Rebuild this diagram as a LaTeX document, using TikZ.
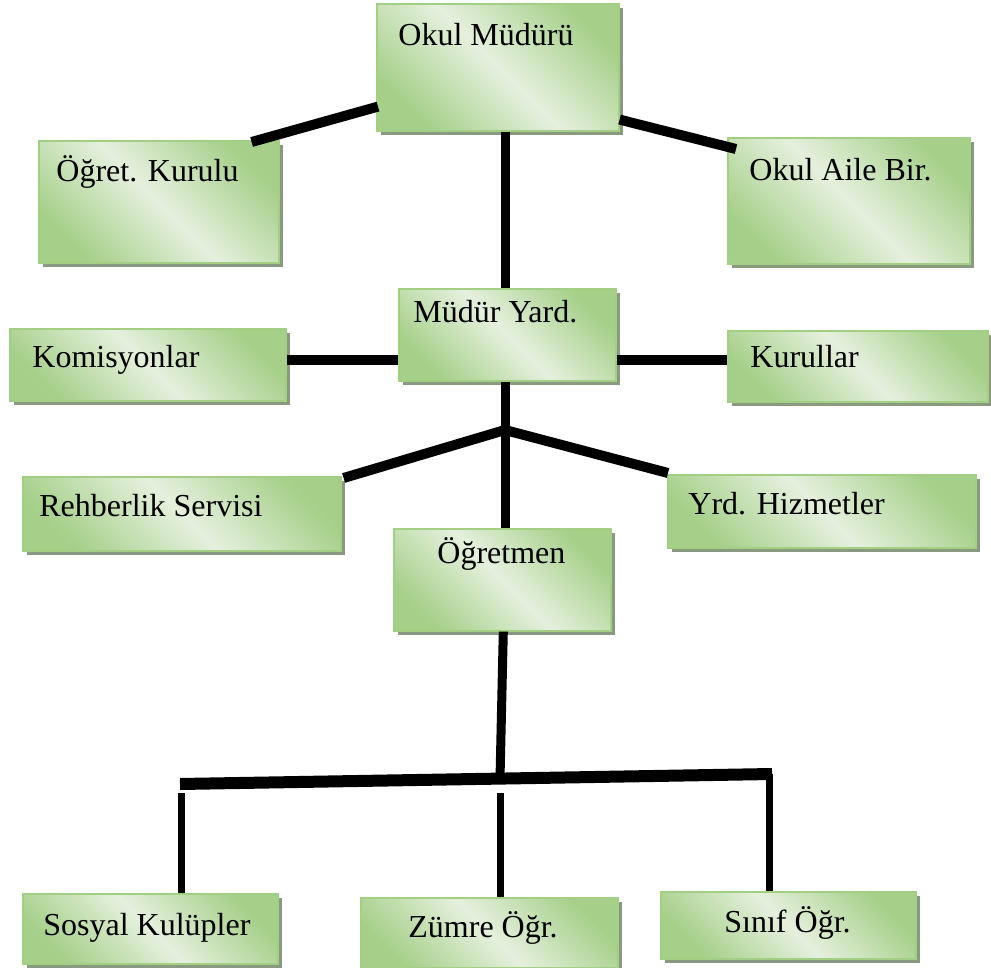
\documentclass[tikz,border=0pt]{standalone}
\usepackage{fontspec}
\setmainfont{Liberation Serif}
\usetikzlibrary{shadows,calc,positioning}
\definecolor{boxgreen}{RGB}{166,208,138}
\definecolor{boxlight}{RGB}{229,240,221}
\definecolor{boxedge}{RGB}{163,207,133}
\definecolor{boxshadow}{RGB}{138,154,128}

\begin{document}
\begin{tikzpicture}
[x=0.5pt,y=-0.5pt,
box/.style 2 args = {draw=boxedge, line width=0.8pt, anchor=north west, inner sep=0pt,
  minimum width=#1*0.5pt, minimum height=#2*0.5pt,
  shading=axis, left color=boxgreen, right color=boxgreen, middle color=boxlight, shading angle=-45,
  drop shadow={shadow xshift=2pt, shadow yshift=-2pt, fill=boxshadow, opacity=1}},
lbl/.style = {anchor=base west, inner sep=0pt, font=\fontsize{16}{18}\selectfont},
link/.style = {line width=5pt},
stem/.style = {line width=3.5pt},]
\useasboundingbox (0,0) rectangle (991,968);
% boxes
\node[box={242}{127}] (om) at (376,3) {};
\node[box={240}{122}] (ok) at (38,140) {};
\node[box={242}{126}] (oab) at (727,137) {};
\node[box={217}{92}] (my) at (398,288) {};
\node[box={276}{72}] (kom) at (9,328) {};
\node[box={260}{71}] (kur) at (727,330) {};
\node[box={318}{74}] (rs) at (22,476) {};
\node[box={308}{73}] (yh) at (667,474) {};
\node[box={217}{102}] (og) at (393,528) {};
\node[box={255}{70}] (sk) at (22,893) {};
\node[box={257}{70}] (zo) at (360,897) {};
\node[box={255}{67}] (so) at (660,891) {};
% texts
\node[lbl] at ($(om.north west)+(22,43)$) {Okul Müdürü};
\node[lbl] at ($(ok.north west)+(18,42)$) {Öğret. Kurulu};
\node[lbl] at ($(oab.north west)+(22,44)$) {Okul Aile Bir.};
\node[lbl] at ($(my.north west)+(15,34)$) {Müdür Yard.};
\node[lbl] at ($(kom.north west)+(23,40)$) {Komisyonlar};
\node[lbl] at ($(kur.north west)+(23,37)$) {Kurullar};
\node[lbl] at ($(rs.north west)+(17,40)$) {Rehberlik Servisi};
\node[lbl] at ($(yh.north west)+(21,40)$) {Yrd. Hizmetler};
\node[lbl] at ($(og.north west)+(44,35)$) {Öğretmen};
\node[lbl] at ($(sk.north west)+(21,42)$) {Sosyal Kulüpler};
\node[lbl] at ($(zo.north west)+(48,40)$) {Zümre Öğr.};
\node[lbl] at ($(so.north west)+(64,41)$) {Sınıf Öğr.};
% connectors
\coordinate (fork) at (505,430);
\coordinate (barL) at (180,784);
\coordinate (barR) at (772,774);
\coordinate (barM) at (500,779);
\draw[link] ($(om.south west)+(2,-25)$) -- ($(ok.north east)+(-28,2)$);
\draw[link] ($(om.south east)+(0,-12)$) -- ($(oab.north west)+(9,12)$);
\draw[line width=4.5pt] (om.south -| fork) -- (my.north -| fork);
\draw[link] (kom.east |- 0,360) -- (my.west |- 0,360);
\draw[link] (my.east |- 0,360) -- (kur.west |- 0,360);
\draw[line width=4.5pt] (my.south -| fork) -- (fork) -- (og.north -| fork);
\draw[link] (fork) -- ($(rs.north east)+(2,2)$);
\draw[link] (fork) -- ($(yh.north west)+(1,-1)$);
\draw[line width=4.5pt] ($(og.south)+(1,0)$) -- (barM);
\draw[line width=6pt] (barL) -- (barR);
\draw[stem] (181,793) -- (sk.north -| 181,0);
\draw[stem] (500,793) -- (zo.north -| 500,0);
\draw[stem] ($(barR)+(-3,0)$) -- (so.north -| 769,0);
\end{tikzpicture}
\end{document}
